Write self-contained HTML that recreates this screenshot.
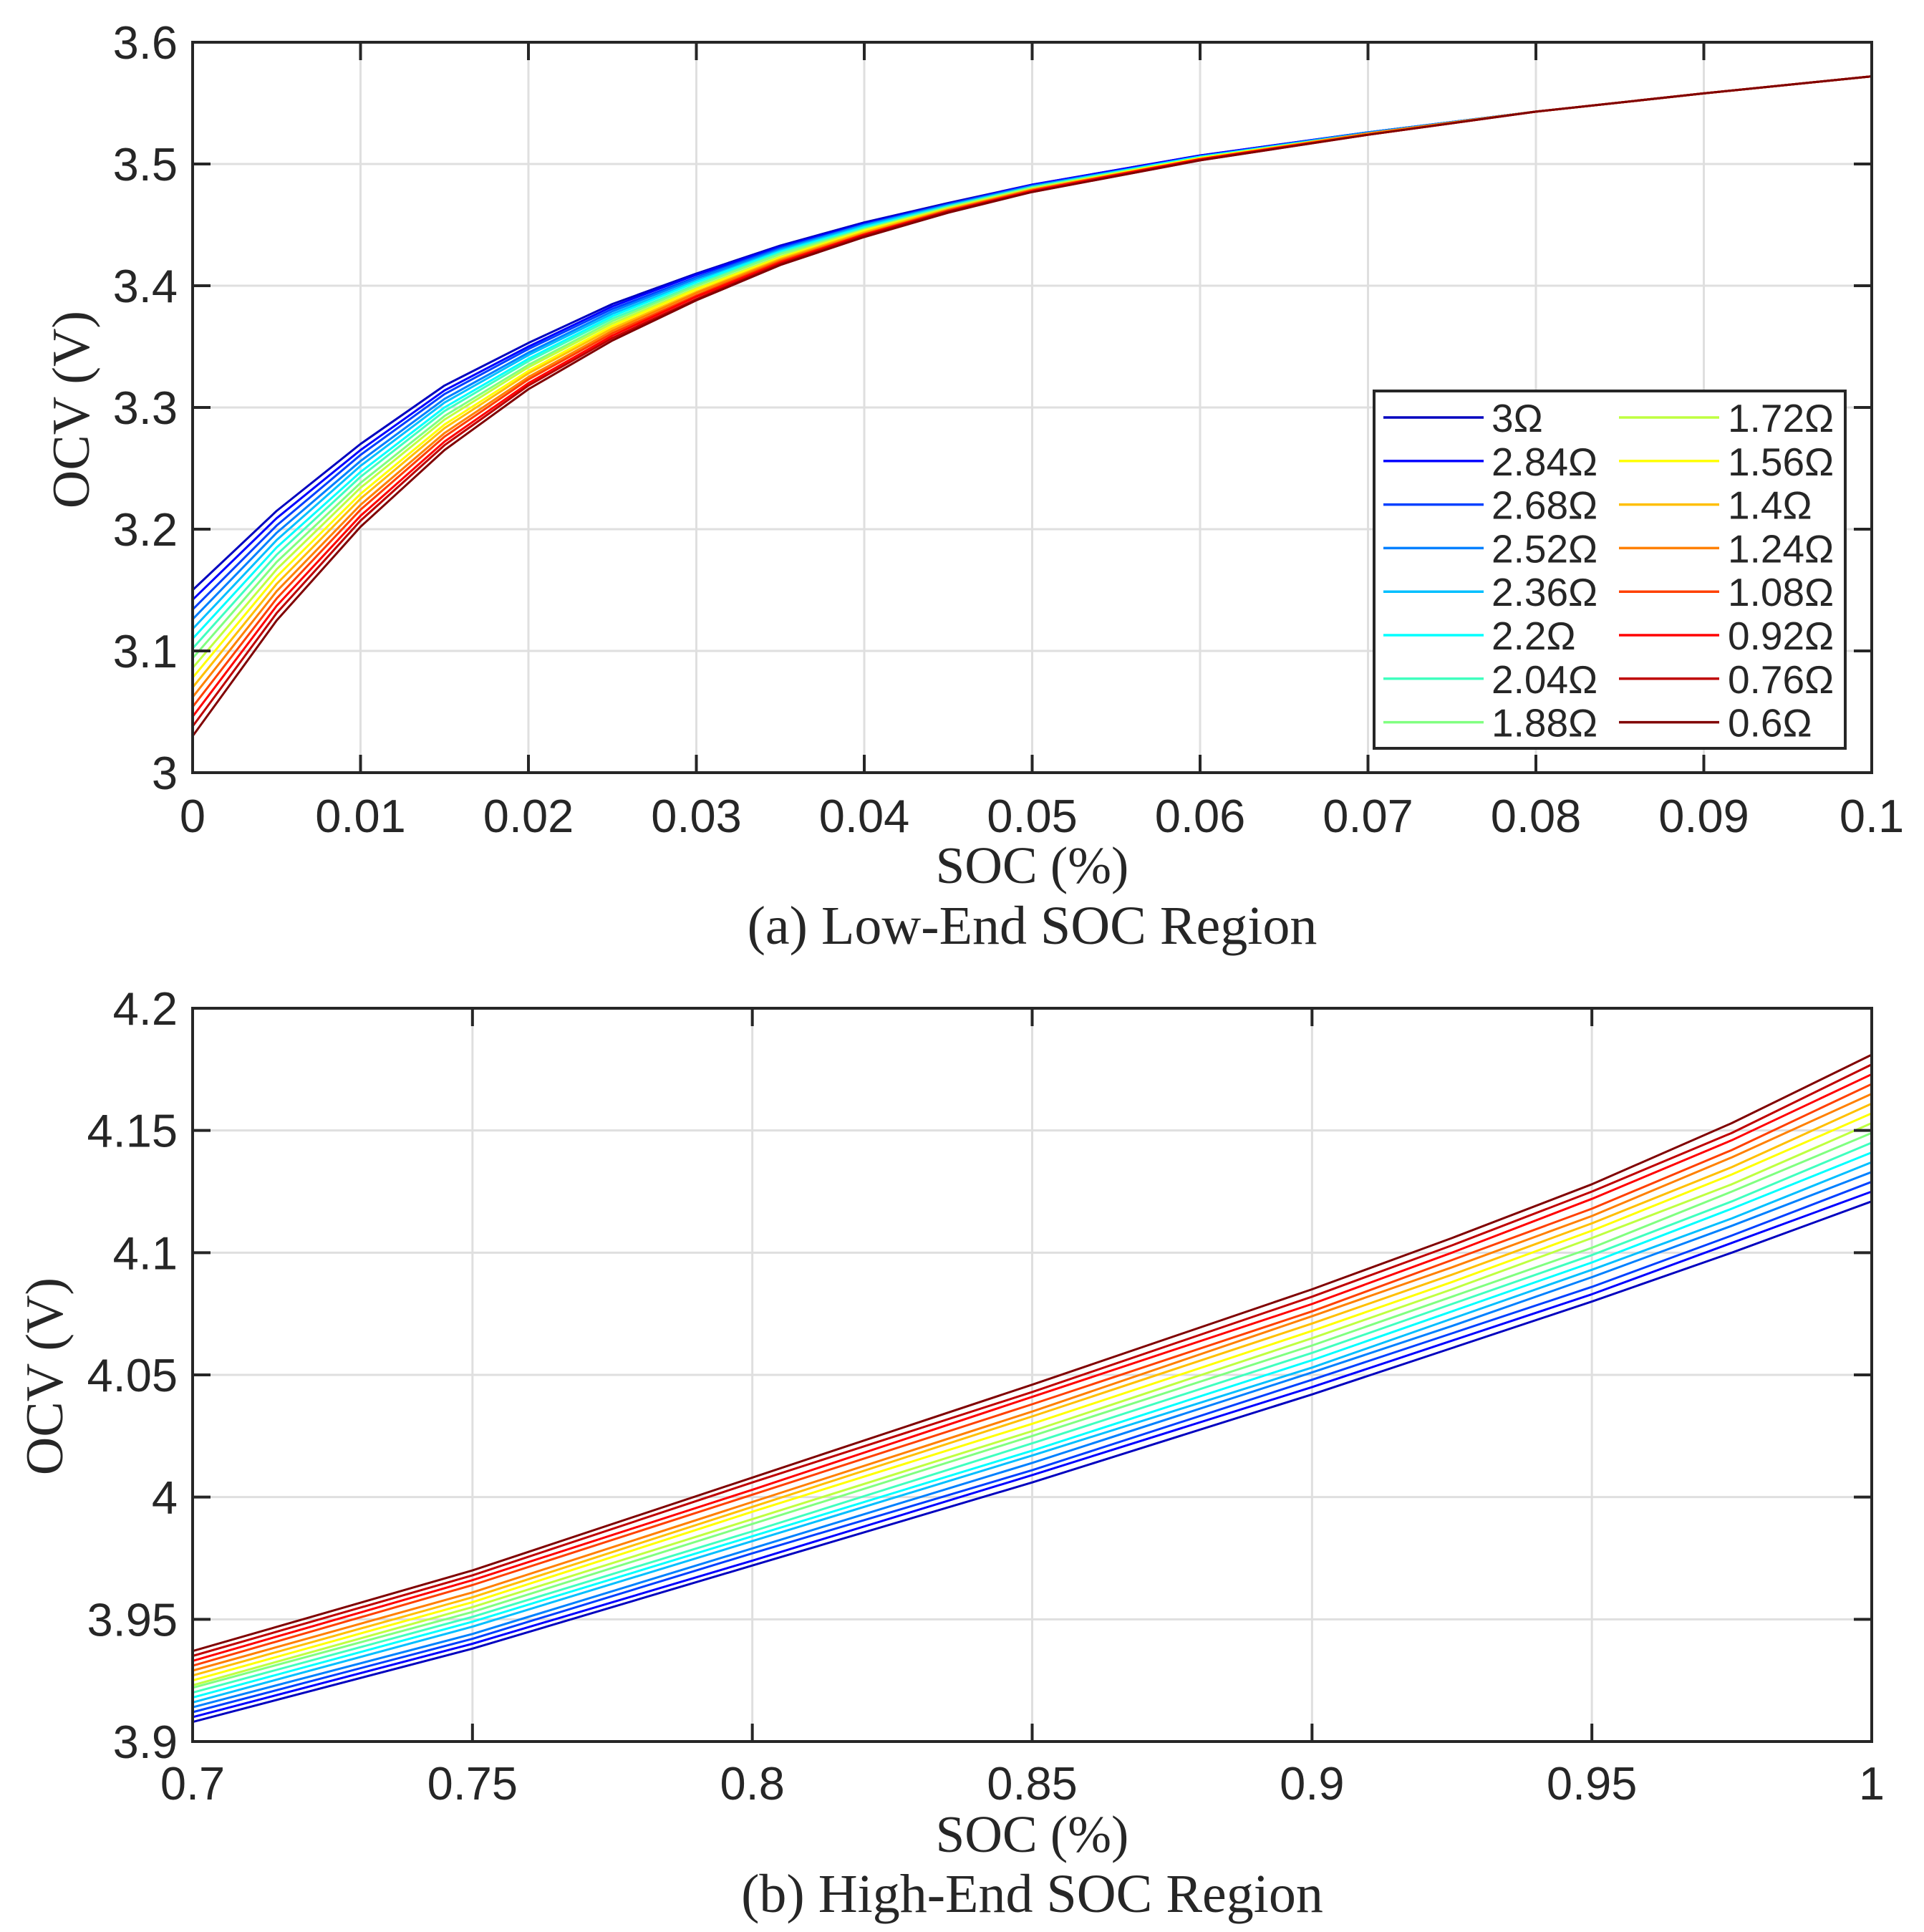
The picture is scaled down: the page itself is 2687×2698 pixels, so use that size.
<!DOCTYPE html>
<html><head><meta charset="utf-8"><style>
html,body{margin:0;padding:0;background:#fff;}
svg{display:block;}
</style></head><body>
<svg id="fig" xmlns="http://www.w3.org/2000/svg" width="2687" height="2698" viewBox="0 0 2687 2698">
<rect width="2687" height="2698" fill="#fff"/>
</svg>
<script>
const names = ['3Ω','2.84Ω','2.68Ω','2.52Ω','2.36Ω','2.2Ω','2.04Ω','1.88Ω','1.72Ω','1.56Ω','1.4Ω','1.24Ω','1.08Ω','0.92Ω','0.76Ω','0.6Ω'];
const colors = ['#0000bf','#0000ff','#0040ff','#0080ff','#00bfff','#00ffff','#40ffbf','#80ff80','#bfff40','#ffff00','#ffbf00','#ff8000','#ff4000','#ff0000','#bf0000','#800000'];

const lowX = [0,0.005,0.01,0.015,0.02,0.025,0.03,0.035,0.04,0.045,0.05,0.06,0.07,0.08,0.09,0.1];
const lowS0 = [3.150,3.215,3.270,3.318,3.353,3.385,3.410,3.433,3.452,3.468,3.483,3.507,3.526,3.543,3.558,3.572];
const lowS1 = [3.142,3.209,3.265,3.314,3.350,3.383,3.409,3.432,3.451,3.467,3.483,3.507,3.526,3.543,3.558,3.572];
const lowS2 = [3.134,3.203,3.261,3.311,3.348,3.381,3.407,3.431,3.450,3.467,3.482,3.506,3.526,3.543,3.558,3.572];
const lowS3 = [3.126,3.197,3.256,3.307,3.345,3.379,3.406,3.430,3.450,3.466,3.482,3.506,3.526,3.543,3.558,3.572];
const lowS4 = [3.118,3.191,3.252,3.304,3.343,3.377,3.404,3.429,3.449,3.466,3.481,3.506,3.525,3.543,3.558,3.572];
const lowS5 = [3.110,3.185,3.247,3.300,3.340,3.375,3.403,3.428,3.448,3.465,3.481,3.506,3.525,3.543,3.558,3.572];
const lowS6 = [3.102,3.179,3.243,3.297,3.338,3.373,3.401,3.427,3.447,3.465,3.481,3.505,3.525,3.543,3.558,3.572];
const lowS7 = [3.094,3.173,3.238,3.293,3.335,3.371,3.400,3.426,3.446,3.464,3.480,3.505,3.525,3.543,3.558,3.572];
const lowS8 = [3.086,3.167,3.234,3.290,3.333,3.369,3.398,3.424,3.446,3.464,3.480,3.505,3.525,3.543,3.558,3.572];
const lowS9 = [3.078,3.161,3.229,3.286,3.330,3.367,3.397,3.423,3.445,3.463,3.479,3.505,3.525,3.543,3.558,3.572];
const lowS10 = [3.070,3.155,3.225,3.283,3.328,3.365,3.395,3.422,3.444,3.463,3.479,3.504,3.525,3.543,3.558,3.572];
const lowS11 = [3.062,3.149,3.220,3.279,3.325,3.363,3.394,3.421,3.443,3.462,3.479,3.504,3.525,3.543,3.558,3.572];
const lowS12 = [3.054,3.143,3.216,3.276,3.323,3.361,3.392,3.420,3.442,3.462,3.478,3.504,3.524,3.543,3.558,3.572];
const lowS13 = [3.046,3.137,3.211,3.272,3.320,3.359,3.391,3.419,3.442,3.461,3.478,3.504,3.524,3.543,3.558,3.572];
const lowS14 = [3.038,3.131,3.207,3.269,3.318,3.357,3.389,3.418,3.441,3.461,3.477,3.503,3.524,3.543,3.558,3.572];
const lowS15 = [3.030,3.125,3.202,3.265,3.315,3.355,3.388,3.417,3.440,3.460,3.477,3.503,3.524,3.543,3.558,3.572];

const highX = [0.7,0.75,0.8,0.85,0.9,0.925,0.95,0.975,1.0];
const highS0 = [3.908,3.938,3.972,4.006,4.042,4.061,4.080,4.100,4.121];
const highS1 = [3.910,3.940,3.974,4.009,4.045,4.064,4.083,4.104,4.125];
const highS2 = [3.912,3.942,3.977,4.011,4.048,4.067,4.086,4.107,4.129];
const highS3 = [3.914,3.944,3.979,4.014,4.051,4.070,4.090,4.111,4.133];
const highS4 = [3.916,3.947,3.982,4.017,4.053,4.073,4.093,4.114,4.137];
const highS5 = [3.918,3.949,3.984,4.019,4.056,4.076,4.096,4.118,4.141];
const highS6 = [3.920,3.951,3.986,4.022,4.059,4.079,4.099,4.121,4.145];
const highS7 = [3.922,3.953,3.989,4.025,4.062,4.082,4.102,4.125,4.149];
const highS8 = [3.923,3.955,3.991,4.027,4.065,4.085,4.106,4.128,4.153];
const highS9 = [3.925,3.957,3.994,4.030,4.068,4.088,4.109,4.132,4.157];
const highS10 = [3.927,3.959,3.996,4.033,4.071,4.091,4.112,4.135,4.161];
const highS11 = [3.929,3.961,3.998,4.035,4.074,4.094,4.115,4.139,4.165];
const highS12 = [3.931,3.964,4.001,4.038,4.076,4.097,4.118,4.142,4.169];
const highS13 = [3.933,3.966,4.003,4.041,4.079,4.100,4.122,4.146,4.173];
const highS14 = [3.935,3.968,4.006,4.043,4.082,4.103,4.125,4.149,4.177];
const highS15 = [3.937,3.970,4.008,4.046,4.085,4.106,4.128,4.153,4.181];

const lowXTicks = [0,0.01,0.02,0.03,0.04,0.05,0.06,0.07,0.08,0.09,0.1];
const lowXLabels = ['0','0.01','0.02','0.03','0.04','0.05','0.06','0.07','0.08','0.09','0.1'];
const lowYTicks = [3,3.1,3.2,3.3,3.4,3.5,3.6];
const lowYLabels = ['3','3.1','3.2','3.3','3.4','3.5','3.6'];
const highXTicks = [0.7,0.75,0.8,0.85,0.9,0.95,1];
const highXLabels = ['0.7','0.75','0.8','0.85','0.9','0.95','1'];
const highYTicks = [3.9,3.95,4,4.05,4.1,4.15,4.2];
const highYLabels = ['3.9','3.95','4','4.05','4.1','4.15','4.2'];

const lowSeries = [lowS0,lowS1,lowS2,lowS3,lowS4,lowS5,lowS6,lowS7,lowS8,lowS9,lowS10,lowS11,lowS12,lowS13,lowS14,lowS15];
const highSeries = [highS0,highS1,highS2,highS3,highS4,highS5,highS6,highS7,highS8,highS9,highS10,highS11,highS12,highS13,highS14,highS15];

const NS = 'http://www.w3.org/2000/svg';
const svg = document.getElementById('fig');
function mk(tag, attrs, parent){
  const e = document.createElementNS(NS, tag);
  for (const k in attrs) e.setAttribute(k, attrs[k]);
  (parent||svg).appendChild(e);
  return e;
}
const SANS = '"Liberation Sans", Arial, sans-serif';
const SERIF = '"Liberation Serif", "Times New Roman", serif';

function drawPanel(cfg){
  const L=269, R=2614, T=cfg.top, B=cfg.bottom;
  const sx = v => L + (v-cfg.xmin)/(cfg.xmax-cfg.xmin)*(R-L);
  const sy = v => B - (v-cfg.ymin)/(cfg.ymax-cfg.ymin)*(B-T);
  const g = mk('g', {});
  
  
  cfg.xTicks.forEach((t)=>{
    if (t===cfg.xmin || t===cfg.xmax) return;
    const l = mk('line',{x1:sx(t),x2:sx(t),y1:T,y2:B,stroke:'#dfdfdf','stroke-width':3},g);
    
    
  });
  cfg.yTicks.forEach((t)=>{
    if (t===cfg.ymin || t===cfg.ymax) return;
    const l = mk('line',{x1:L,x2:R,y1:sy(t),y2:sy(t),stroke:'#dfdfdf','stroke-width':3},g);
    
    
  });
  cfg.series.forEach((s,i)=>{
    const pts = s.map((v,j)=> sx(cfg.x[j]).toFixed(1)+','+sy(v).toFixed(1)).join(' ');
    const p = mk('polyline',{points:pts,fill:'none',stroke:colors[i],'stroke-width':3,'stroke-linejoin':'round'},g);
    
    
  });
  cfg.xTicks.forEach((t,i)=>{
    const x = sx(t);
    mk('line',{x1:x,x2:x,y1:B,y2:B-25,stroke:'#262626','stroke-width':4},g);
    mk('line',{x1:x,x2:x,y1:T,y2:T+25,stroke:'#262626','stroke-width':4},g);
    const tx = mk('text',{x:x,y:cfg.xLabelBase,'text-anchor':'middle','font-family':SANS,'font-size':65,fill:'#262626'},g);
    tx.textContent = cfg.xLabels[i];
    
    
  });
  cfg.yTicks.forEach((t,i)=>{
    const y = sy(t);
    mk('line',{x1:L,x2:L+25,y1:y,y2:y,stroke:'#262626','stroke-width':4},g);
    mk('line',{x1:R,x2:R-25,y1:y,y2:y,stroke:'#262626','stroke-width':4},g);
    const tx = mk('text',{x:248,y:y+23,'text-anchor':'end','font-family':SANS,'font-size':65,fill:'#262626'},g);
    tx.textContent = cfg.yLabels[i];
    
    
  });
  const box = mk('rect',{x:L,y:T,width:R-L,height:B-T,fill:'none',stroke:'#262626','stroke-width':4},g);
  
  
  const yl = mk('text',{x:0,y:0,'text-anchor':'middle','font-family':SERIF,'font-size':74,fill:'#262626',transform:'translate('+(cfg.yLabelX)+','+cfg.yLabelY+') rotate(-90)'},g);
  yl.textContent = 'OCV (V)';
  
  
  const xl = mk('text',{x:(L+R)/2,y:cfg.xTitleBase,'text-anchor':'middle','font-family':SERIF,'font-size':73,fill:'#262626'},g);
  xl.textContent = 'SOC (%)';
  
  
  const cap = mk('text',{x:(L+R)/2,y:cfg.capBase,'text-anchor':'middle','font-family':SERIF,'font-size':76,fill:'#262626'},g);
  cap.textContent = cfg.caption;
  
  
}

drawPanel({name:'low-soc-panel',top:59,bottom:1079,xmin:0,xmax:0.1,ymin:3,ymax:3.6,x:lowX,series:lowSeries,
  xTicks:lowXTicks,xLabels:lowXLabels,yTicks:lowYTicks,yLabels:lowYLabels,xLabelBase:1162,
  yLabelX:124,yLabelY:572,xTitleBase:1233,capBase:1318,caption:'(a) Low-End SOC Region'});
drawPanel({name:'high-soc-panel',top:1408,bottom:2432,xmin:0.7,xmax:1,ymin:3.9,ymax:4.2,x:highX,series:highSeries,
  xTicks:highXTicks,xLabels:highXLabels,yTicks:highYTicks,yLabels:highYLabels,xLabelBase:2513,
  yLabelX:87,yLabelY:1922,xTitleBase:2586,capBase:2670,caption:'(b) High-End SOC Region'});

const lg = mk('g',{});


mk('rect',{x:1919,y:546,width:658,height:499,fill:'#fff',stroke:'#262626','stroke-width':4},lg);
names.forEach((n,i)=>{
  const col = i<8 ? 0 : 1;
  const row = i%8;
  const y = 583 + row*60.8;
  const lx = col===0 ? 1932 : 2261;
  const tx = col===0 ? 2083 : 2413;
  const e = mk('g',{},lg);
  
  
  mk('line',{x1:lx,x2:lx+140,y1:y,y2:y,stroke:colors[i],'stroke-width':3.5},e);
  const t = mk('text',{x:tx,y:y+20,'font-family':SANS,'font-size':55,'font-weight':500,fill:'#262626'},e);
  t.textContent = n;
});
</script>
</body></html>
